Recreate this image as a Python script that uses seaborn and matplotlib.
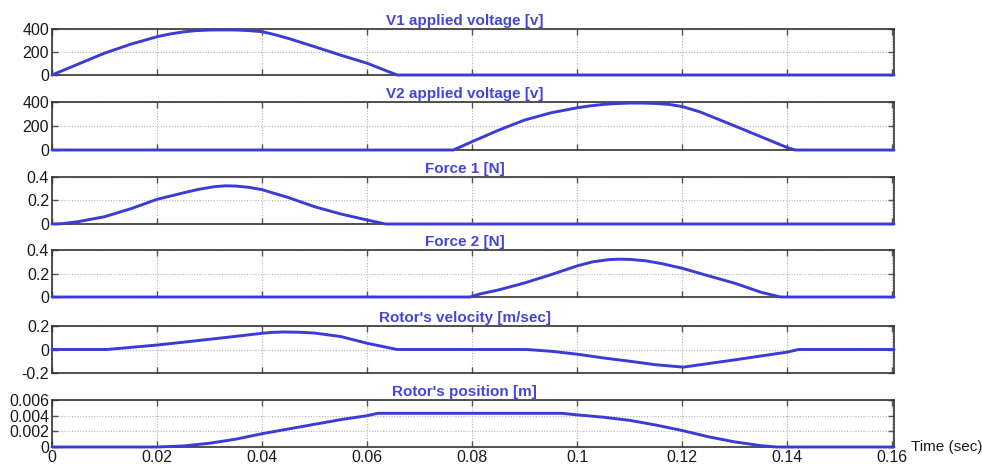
import matplotlib
matplotlib.use("Agg")
import matplotlib.pyplot as plt
import seaborn as sns
import pandas as pd

# ---------------- data ----------------
titles = ["V1 applied voltage [v]", "V2 applied voltage [v]", "Force 1 [N]",
          "Force 2 [N]", "Rotor's velocity [m/sec]", "Rotor's position [m]"]

v1_t = [0, 0.005, 0.01, 0.015, 0.02, 0.0225, 0.025, 0.0275, 0.03, 0.0325,
        0.035, 0.0375, 0.04, 0.0425, 0.045, 0.05, 0.055, 0.06, 0.0657, 0.1603]
v1_v = [0, 95, 190, 268, 333, 357, 375, 386, 391, 392, 391, 386, 377, 350,
        318, 246, 172, 102, 0, 0]

v2_t = [0, 0.0764, 0.08, 0.085, 0.09, 0.095, 0.1, 0.1025, 0.105, 0.1075,
        0.11, 0.1125, 0.115, 0.1175, 0.12, 0.1234, 0.13, 0.135, 0.14, 0.1415,
        0.1603]
v2_v = [0, 0, 70, 165, 250, 310, 352, 368, 380, 387, 391, 391, 388, 380, 362,
        317, 200, 110, 20, 0, 0]

f1_t = [0, 0.002, 0.005, 0.01, 0.015, 0.02, 0.025, 0.028, 0.031, 0.033,
        0.035, 0.0375, 0.04, 0.045, 0.05, 0.055, 0.06, 0.0635, 0.1603]
f1_v = [0, 0.003, 0.02, 0.062, 0.13, 0.21, 0.265, 0.296, 0.318, 0.325,
        0.323, 0.312, 0.292, 0.225, 0.147, 0.085, 0.034, 0.0, 0]

f2_t = [0, 0.0796, 0.0815, 0.085, 0.09, 0.095, 0.1, 0.103, 0.106, 0.108,
        0.11, 0.113, 0.116, 0.12, 0.125, 0.13, 0.135, 0.1387, 0.1603]
f2_v = [0, 0, 0.026, 0.06, 0.12, 0.19, 0.265, 0.3, 0.318, 0.322, 0.32,
        0.308, 0.285, 0.244, 0.18, 0.117, 0.04, 0.0, 0]

vel_t = [0, 0.0104, 0.015, 0.02, 0.025, 0.03, 0.035, 0.04, 0.042, 0.044,
         0.047, 0.05, 0.055, 0.06, 0.0657, 0.0904, 0.095, 0.1, 0.105, 0.11,
         0.115, 0.1202, 0.13, 0.14, 0.1421, 0.1603]
vel_v = [0, 0, 0.018, 0.038, 0.062, 0.087, 0.112, 0.138, 0.146, 0.149,
         0.147, 0.14, 0.11, 0.053, 0, 0, -0.015, -0.04, -0.072, -0.1,
         -0.13, -0.15, -0.088, -0.022, 0, 0]

pos_t = [0, 0.02, 0.025, 0.03, 0.035, 0.04, 0.045, 0.05, 0.055, 0.06, 0.062,
         0.0971, 0.1, 0.105, 0.11, 0.115, 0.12, 0.125, 0.13, 0.135, 0.138,
         0.1603]
pos_v = [0, 0, 0.00013, 0.00048, 0.001, 0.0017, 0.0023, 0.0029, 0.0035,
         0.004, 0.0043, 0.0043, 0.0041, 0.0038, 0.0034, 0.0028, 0.0021,
         0.0013, 0.00065, 0.00017, 0, 0]

x_ticks = [0, 0.02, 0.04, 0.06, 0.08, 0.1, 0.12, 0.14, 0.16]
x_ticklabels = ["0", "0.02", "0.04", "0.06", "0.08", "0.1", "0.12", "0.14", "0.16"]

y_ticks = [[0, 200, 400], [0, 200, 400], [0, 0.2, 0.4], [0, 0.2, 0.4],
           [-0.2, 0, 0.2], [0, 0.002, 0.004, 0.006]]
y_ticklabels = [["0", "200", "400"], ["0", "200", "400"], ["0", "0.2", "0.4"],
                ["0", "0.2", "0.4"], ["-0.2", "0", "0.2"],
                ["0", "0.002", "0.004", "0.006"]]
y_lims = [(0, 400), (0, 400), (0, 0.4), (0, 0.4), (-0.2, 0.2), (0, 0.006)]

series = [(v1_t, v1_v), (v2_t, v2_v), (f1_t, f1_v), (f2_t, f2_v),
          (vel_t, vel_v), (pos_t, pos_v)]

# ---------------- style ----------------
sns.set_theme(style="white")
plt.rcParams['font.family'] = ['Liberation Sans', 'DejaVu Sans']

W, H = 982, 466
fig = plt.figure(figsize=(W / 100, H / 100), dpi=100)
fig.patch.set_facecolor("white")

line_color = "#3b3bd6"
title_color = "#4646d6"

left_px, right_px = 52, 894
panels_px = [(29, 75), (102, 150), (177, 224), (250, 297), (326, 373), (400, 447)]

for i, ((t, v), (top, bot)) in enumerate(zip(series, panels_px)):
    rect = [left_px / W, 1 - bot / H, (right_px - left_px) / W, (bot - top) / H]
    ax = fig.add_axes(rect)
    df = pd.DataFrame({"t": t, "v": v})
    sns.lineplot(data=df, x="t", y="v", ax=ax, color=line_color, lw=2.1,
                 estimator=None, sort=False, zorder=5, clip_on=False)
    ax.set_xlim(0, 0.1603)
    ax.set_ylim(*y_lims[i])
    ax.set_xticks(x_ticks)
    ax.set_yticks(y_ticks[i])
    ax.set_yticklabels(y_ticklabels[i])
    if i == len(series) - 1:
        ax.set_xticklabels(x_ticklabels)
    else:
        ax.set_xticklabels([])
    ax.set_xlabel("")
    ax.set_ylabel("")
    ax.grid(True, linestyle=(0, (1, 1.5)), color="#b5b5b5", linewidth=0.8)
    ax.tick_params(direction="in", length=4, width=1.0, color="#555555",
                   top=True, right=True, bottom=True, left=True,
                   labelsize=11.5, labelcolor="#1a1a1a", pad=2)
    for s in ax.spines.values():
        s.set_color("#333333")
        s.set_linewidth(1.2)
        s.set_visible(True)
    ax.set_title(titles[i], fontsize=11, fontweight="bold", color=title_color,
                 pad=3, x=0.49)

fig.text(911 / W, 1 - 447 / H, "Time (sec)", fontsize=11, color="#1a1a1a",
         ha="left", va="center")

fig.savefig("out.png", dpi=100, facecolor="white")
